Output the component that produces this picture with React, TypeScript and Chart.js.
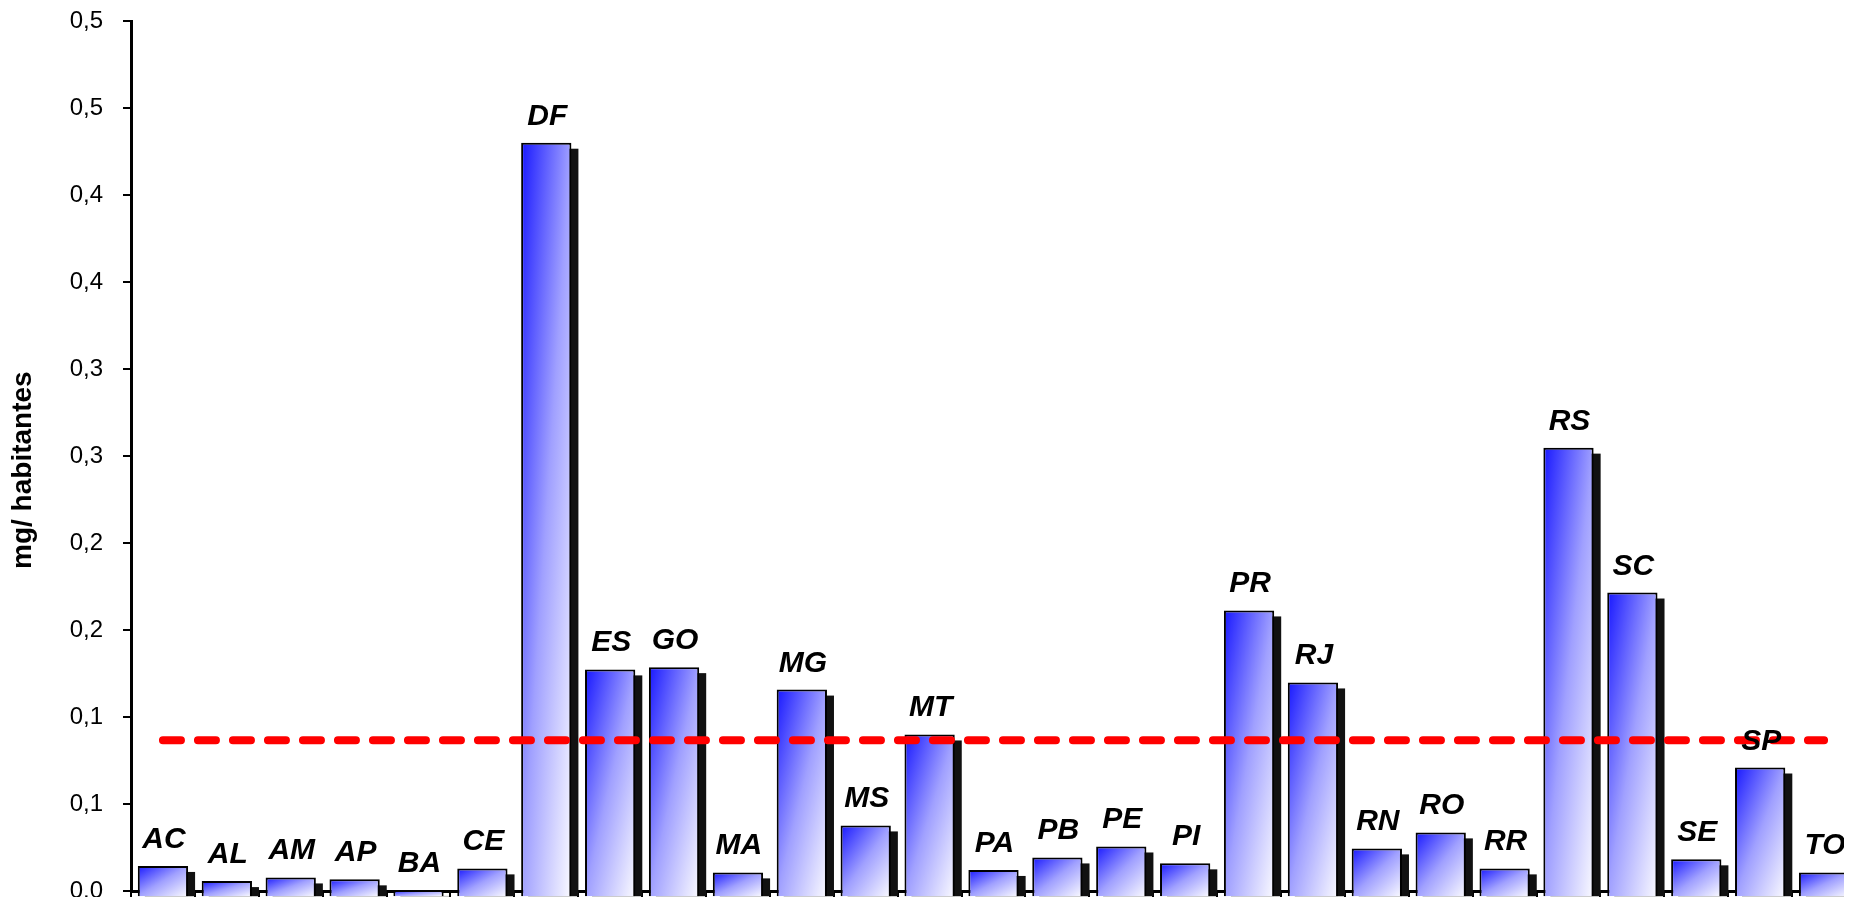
import { useEffect, useRef } from 'react';
import { Chart, registerables } from 'chart.js';

Chart.register(...registerables);

const FONT = "'Liberation Sans', Arial, Helvetica, sans-serif";

const states = [
  'AC', 'AL', 'AM', 'AP', 'BA', 'CE', 'DF', 'ES', 'GO', 'MA', 'MG', 'MS', 'MT', 'PA',
  'PB', 'PE', 'PI', 'PR', 'RJ', 'RN', 'RO', 'RR', 'RS', 'SC', 'SE', 'SP', 'TO',
];

const mgPerInhabitant = [
  0.0144, 0.0057, 0.0078, 0.0067, 0.0006, 0.013, 0.4302, 0.1274, 0.1287, 0.0107,
  0.1158, 0.0377, 0.09, 0.0121, 0.0193, 0.0256, 0.0159, 0.1613, 0.1199, 0.0245,
  0.0337, 0.013, 0.2549, 0.1716, 0.0182, 0.071, 0.0107,
];

const brazilAverage = [
  0.0866, 0.0866, 0.0866, 0.0866, 0.0866, 0.0866, 0.0866, 0.0866, 0.0866, 0.0866,
  0.0866, 0.0866, 0.0866, 0.0866, 0.0866, 0.0866, 0.0866, 0.0866, 0.0866, 0.0866,
  0.0866, 0.0866, 0.0866, 0.0866, 0.0866, 0.0866, 0.0866,
];

const yTickLabels = ['0.0', '0,1', '0,1', '0,2', '0,2', '0,3', '0,3', '0,4', '0,4', '0,5', '0,5'];

const yAxisTitle = 'mg/ habitantes';

const BAR_PCT = 0.787;
const BAR_BASE = -0.003;

const barShadowPlugin = {
  id: 'barShadow',
  beforeDatasetDraw(chart: any, args: any) {
    if (args.index !== 0) return;
    const ctx = chart.ctx;
    ctx.save();
    ctx.fillStyle = '#111111';
    args.meta.data.forEach((el: any) => {
      const p = el.getProps(['x', 'y', 'base', 'width'], true);
      ctx.fillRect(p.x - p.width / 2 + 7, p.y + 6, p.width, Math.max(p.base - p.y - 6, 0));
    });
    ctx.restore();
  },
};

const barLabelPlugin = {
  id: 'barLabels',
  afterDatasetsDraw(chart: any) {
    const meta = chart.getDatasetMeta(0);
    const ctx = chart.ctx;
    ctx.save();
    ctx.font = `italic bold 30px ${FONT}`;
    ctx.fillStyle = '#000';
    ctx.textAlign = 'center';
    ctx.textBaseline = 'alphabetic';
    meta.data.forEach((el: any, i: number) => {
      const p = el.getProps(['x', 'y'], true);
      ctx.fillText(states[i], p.x + 1, p.y - 18);
    });
    ctx.restore();
  },
};

const yTitlePlugin = {
  id: 'yTitle',
  afterDraw(chart: any) {
    const { ctx, chartArea } = chart;
    ctx.save();
    ctx.font = `bold 28px ${FONT}`;
    ctx.fillStyle = '#000';
    ctx.textAlign = 'center';
    ctx.textBaseline = 'middle';
    ctx.translate(chartArea.left - 108, (chartArea.top + chartArea.bottom) / 2 + 14);
    ctx.rotate(-Math.PI / 2);
    ctx.fillText(yAxisTitle, 0, 0);
    ctx.restore();
  },
};

function barGradient(c: any) {
  const chart = c.chart;
  const xs = chart.scales?.x;
  const ys = chart.scales?.y;
  if (!xs || !ys || c.type !== 'data' || !xs.width) return '#6666ff';
  const cx = xs.getPixelForValue(c.dataIndex);
  const w = (xs.width / states.length) * BAR_PCT;
  const x0 = cx - w / 2;
  const y0 = ys.getPixelForValue(c.raw);
  const y1 = ys.getPixelForValue(BAR_BASE);
  const h = Math.max(y1 - y0, 1);
  const k = 2 / (1 / (w * w) + 1 / (h * h));
  const g = chart.ctx.createLinearGradient(x0, y0, x0 + k / w, y0 + k / h);
  g.addColorStop(0, 'rgb(24,24,255)');
  g.addColorStop(0.5, 'rgb(160,160,255)');
  g.addColorStop(1, 'rgb(250,250,255)');
  return g;
}

export default function App() {
  const canvasRef = useRef<HTMLCanvasElement | null>(null);

  useEffect(() => {
    if (!canvasRef.current) return;
    const chart = new Chart(canvasRef.current, {
      type: 'bar',
      data: {
        labels: states,
        datasets: [
          {
            type: 'bar',
            data: mgPerInhabitant,
            backgroundColor: barGradient,
            borderColor: '#000',
            borderWidth: 2,
            barPercentage: BAR_PCT,
            categoryPercentage: 1,
            base: BAR_BASE,
            clip: false,
            order: 1,
          } as any,
          {
            type: 'line',
            data: brazilAverage,
            borderColor: '#ff0000',
            borderWidth: 8,
            borderDash: [18, 17],
            borderCapStyle: 'round',
            pointRadius: 0,
            fill: false,
            tension: 0,
            order: 0,
          } as any,
        ],
      },
      options: {
        responsive: false,
        animation: false,
        devicePixelRatio: 1,
        layout: { autoPadding: false, padding: { top: 13.3, left: 0, right: 0, bottom: 0 } },
        plugins: {
          legend: { display: false },
          tooltip: { enabled: false },
          title: { display: false },
        },
        scales: {
          x: {
            type: 'category',
            offset: true,
            z: 1,
            grid: {
              display: true,
              drawOnChartArea: false,
              drawTicks: true,
              tickLength: 9,
              color: '#000',
              lineWidth: 2,
              offset: true,
            },
            border: { display: true, color: '#000', width: 3 },
            ticks: { display: false },
            afterFit: (s: any) => {
              s.height = 14;
              s.paddingLeft = 0;
              s.paddingRight = 0;
            },
          },
          y: {
            min: 0,
            max: 0.5,
            grid: {
              drawOnChartArea: false,
              drawTicks: true,
              tickLength: 8,
              color: '#000',
              lineWidth: 2,
            },
            border: { display: true, color: '#000', width: 3 },
            ticks: {
              stepSize: 0.05,
              padding: 20,
              color: '#000',
              font: { size: 24, family: FONT, lineHeight: 1 },
              callback: (_v: any, i: number) => yTickLabels[i],
            },
            title: { display: false },
            afterFit: (s: any) => {
              s.width = 123;
              s.paddingTop = 0;
              s.paddingBottom = 0;
            },
          },
        },
      } as any,
      plugins: [barShadowPlugin, barLabelPlugin, yTitlePlugin],
    });
    return () => chart.destroy();
  }, []);

  return (
    <div
      style={{
        width: 'calc(100% + 8px)',
        height: 897,
        marginBottom: -8,
        overflow: 'hidden',
        background: '#fff',
      }}
    >
      <canvas
        ref={canvasRef}
        width={1848}
        height={897}
        style={{ display: 'block', width: 1848, height: 897 }}
      />
    </div>
  );
}
